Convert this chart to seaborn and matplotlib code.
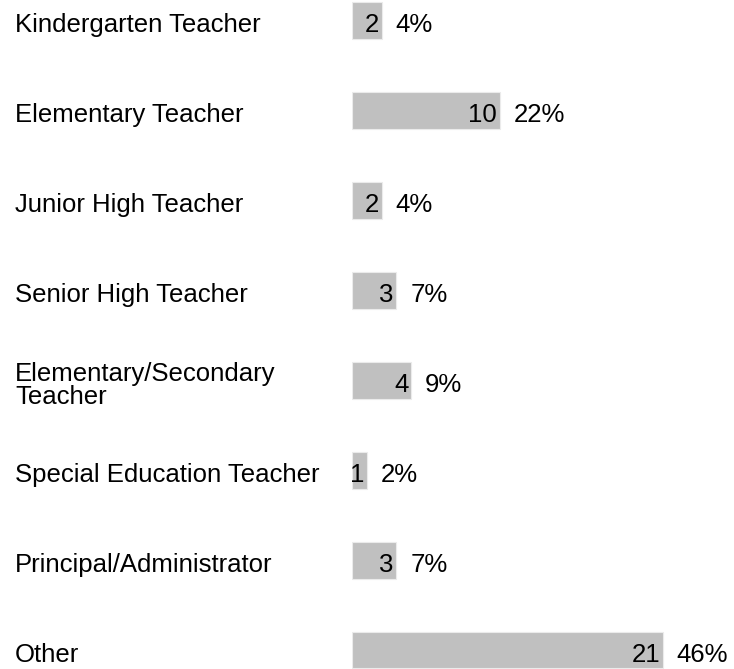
import matplotlib
matplotlib.use("Agg")
import matplotlib.pyplot as plt
import matplotlib.transforms as mtransforms
import pandas as pd
import seaborn as sns

# values
roles = ["Kindergarten Teacher", "Elementary Teacher", "Junior High Teacher",
         "Senior High Teacher", "Elementary/Secondary\nTeacher",
         "Special Education Teacher", "Principal/Administrator", "Other"]
counts = [2, 10, 2, 3, 4, 1, 3, 21]
percents = ["4%", "22%", "4%", "7%", "9%", "2%", "7%", "46%"]

df = pd.DataFrame({"role": roles, "count": counts})

sns.set_style("white")
plt.rcParams["font.family"] = ["Liberation Sans", "DejaVu Sans"]

W, H = 734, 669
fig = plt.figure(figsize=(W / 100, H / 100), dpi=100)
px_per_unit = 14.8
xmax = 25
ax = fig.add_axes([352 / W, 0, xmax * px_per_unit / W, 1])

sns.barplot(data=df, y="role", x="count", orient="h", color="#c0c0c0",
            saturation=1, width=0.41, edgecolor="#ebebeb", linewidth=0.8, ax=ax)

# pixel layout: first bar centre at 20.5 px, spacing ~89.9 px
step = 89.9
ax.set_ylim(7 + (H - 650) / step, -20.5 / step)
ax.set_xlim(0, xmax)
ax.axis("off")

fs = 18.5
dy = -3.5  # text sits a little below the bar centre
trans = mtransforms.blended_transform_factory(fig.transFigure, ax.transData)
for i, (role, c, p) in enumerate(zip(roles, counts, percents)):
    ax.annotate(role, (15 / W, i), xycoords=trans, xytext=(0, dy),
                textcoords="offset points", ha="left", va="center",
                fontsize=fs, linespacing=0.95, color="black")
    ax.annotate(str(c), (c, i), xytext=(-2, dy), textcoords="offset points",
                ha="right", va="center", fontsize=fs, color="black")
    ax.annotate(p, (c, i), xytext=(10, dy), textcoords="offset points",
                ha="left", va="center", fontsize=fs, color="black")

fig.savefig("out.png", dpi=100)
